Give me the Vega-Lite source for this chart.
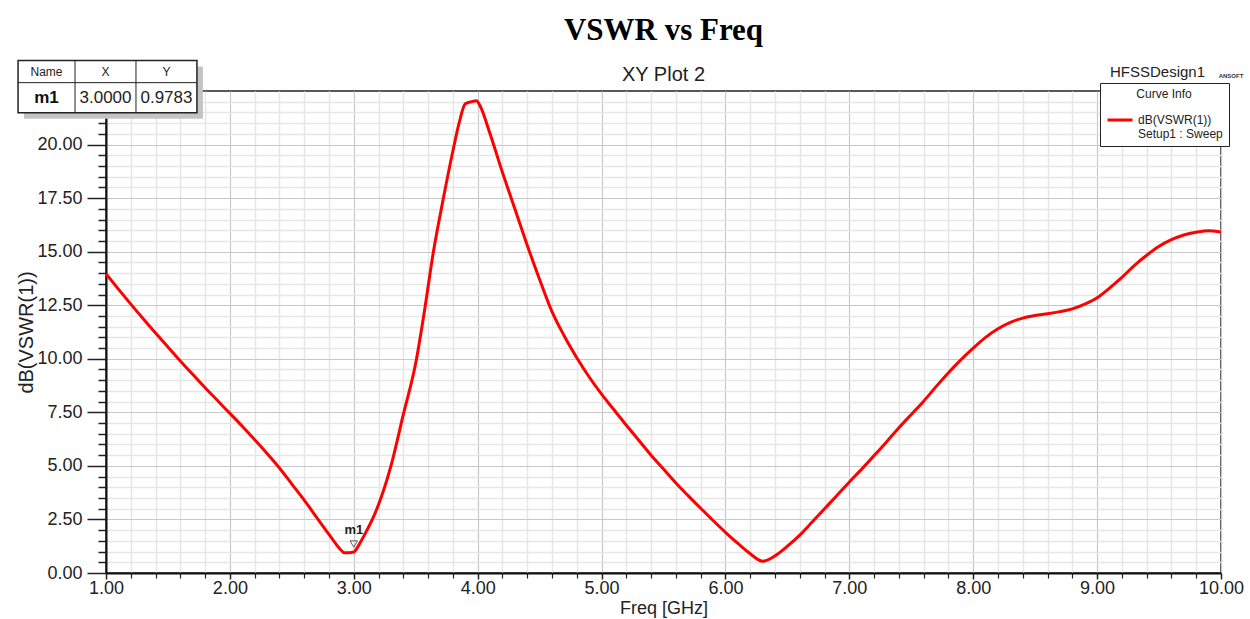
{
  "$schema": "https://vega.github.io/schema/vega-lite/v6.json",
  "width": 1115,
  "height": 482,
  "autosize": {"type": "none"},
  "padding": {"left": 106, "top": 91, "right": 29, "bottom": 46},
  "background": "white",
  "config": {
    "font": "Liberation Sans",
    "view": {"stroke": "#222", "strokeWidth": 1.5},
    "axis": {"labelColor": "#222", "titleColor": "#222", "tickColor": "#222", "domainColor": "#111"}
  },
  "title": {
    "text": "VSWR vs Freq",
    "subtitle": "XY Plot 2",
    "font": "Liberation Serif",
    "fontSize": 31,
    "fontWeight": "bold",
    "color": "#000",
    "subtitleFont": "Liberation Sans",
    "subtitleFontSize": 20,
    "subtitleColor": "#222",
    "subtitlePadding": 18,
    "anchor": "middle",
    "offset": -26
  },
  "datasets": {
    "curve": [
      {"f": 1.0, "v": 13.97}, {"f": 1.1, "v": 13.25}, {"f": 1.2, "v": 12.55}, {"f": 1.3, "v": 11.87},
      {"f": 1.4, "v": 11.2}, {"f": 1.5, "v": 10.55}, {"f": 1.6, "v": 9.9}, {"f": 1.7, "v": 9.27},
      {"f": 1.8, "v": 8.65}, {"f": 1.9, "v": 8.05}, {"f": 2.0, "v": 7.45}, {"f": 2.1, "v": 6.85},
      {"f": 2.2, "v": 6.22}, {"f": 2.3, "v": 5.58}, {"f": 2.4, "v": 4.9}, {"f": 2.5, "v": 4.15},
      {"f": 2.6, "v": 3.4}, {"f": 2.7, "v": 2.6}, {"f": 2.8, "v": 1.8}, {"f": 2.9, "v": 1.05},
      {"f": 2.92, "v": 0.95}, {"f": 2.96, "v": 0.95}, {"f": 3.0, "v": 0.98}, {"f": 3.05, "v": 1.4},
      {"f": 3.1, "v": 1.93}, {"f": 3.15, "v": 2.5}, {"f": 3.2, "v": 3.2}, {"f": 3.3, "v": 5.0},
      {"f": 3.4, "v": 7.4}, {"f": 3.5, "v": 9.8}, {"f": 3.575, "v": 12.4}, {"f": 3.64, "v": 14.9},
      {"f": 3.72, "v": 17.4}, {"f": 3.8, "v": 19.7}, {"f": 3.85, "v": 21.0}, {"f": 3.9, "v": 21.9},
      {"f": 3.95, "v": 22.0}, {"f": 3.99, "v": 22.05}, {"f": 4.02, "v": 21.8}, {"f": 4.1, "v": 20.5},
      {"f": 4.2, "v": 18.7}, {"f": 4.3, "v": 17.0}, {"f": 4.4, "v": 15.3}, {"f": 4.5, "v": 13.7},
      {"f": 4.6, "v": 12.2}, {"f": 4.7, "v": 11.05}, {"f": 4.8, "v": 10.05}, {"f": 4.9, "v": 9.15},
      {"f": 5.0, "v": 8.35}, {"f": 5.1, "v": 7.62}, {"f": 5.2, "v": 6.9}, {"f": 5.3, "v": 6.2},
      {"f": 5.4, "v": 5.5}, {"f": 5.5, "v": 4.85}, {"f": 5.6, "v": 4.2}, {"f": 5.7, "v": 3.6},
      {"f": 5.8, "v": 3.02}, {"f": 5.9, "v": 2.45}, {"f": 6.0, "v": 1.9}, {"f": 6.1, "v": 1.38},
      {"f": 6.2, "v": 0.9}, {"f": 6.3, "v": 0.55}, {"f": 6.4, "v": 0.8},
      {"f": 6.5, "v": 1.25}, {"f": 6.6, "v": 1.77}, {"f": 6.7, "v": 2.38}, {"f": 6.8, "v": 3.0},
      {"f": 6.9, "v": 3.62}, {"f": 7.0, "v": 4.25}, {"f": 7.1, "v": 4.85}, {"f": 7.2, "v": 5.48},
      {"f": 7.3, "v": 6.12}, {"f": 7.4, "v": 6.78}, {"f": 7.5, "v": 7.4}, {"f": 7.6, "v": 8.02},
      {"f": 7.7, "v": 8.7}, {"f": 7.8, "v": 9.35}, {"f": 7.9, "v": 9.95}, {"f": 8.0, "v": 10.5},
      {"f": 8.1, "v": 11.0}, {"f": 8.2, "v": 11.4}, {"f": 8.3, "v": 11.7}, {"f": 8.4, "v": 11.9},
      {"f": 8.5, "v": 12.02}, {"f": 8.6, "v": 12.1}, {"f": 8.7, "v": 12.2}, {"f": 8.8, "v": 12.33},
      {"f": 8.9, "v": 12.55}, {"f": 9.0, "v": 12.85}, {"f": 9.1, "v": 13.3}, {"f": 9.2, "v": 13.8},
      {"f": 9.3, "v": 14.35}, {"f": 9.4, "v": 14.83}, {"f": 9.5, "v": 15.25}, {"f": 9.6, "v": 15.56},
      {"f": 9.7, "v": 15.78}, {"f": 9.8, "v": 15.91}, {"f": 9.9, "v": 15.98}, {"f": 10.0, "v": 15.92}
    ],
    "marker": [{"name": "m1", "X": 3.0, "Y": 0.9783}]
  },
  "layer": [
    {
      "data": {"name": "marker"},
      "mark": {"type": "point", "opacity": 0},
      "encoding": {
        "x": {"field": "X", "type": "quantitative", "scale": {"domain": [1, 10], "nice": false, "zero": false},
          "axis": {"orient": "bottom", "values": [1.2,1.4,1.6,1.8,2.2,2.4,2.6,2.8,3.2,3.4,3.6,3.8,4.2,4.4,4.6,4.8,5.2,5.4,5.6,5.8,6.2,6.4,6.6,6.8,7.2,7.4,7.6,7.8,8.2,8.4,8.6,8.8,9.2,9.4,9.6,9.8],
            "labels": false, "domain": false, "title": null, "grid": true, "gridColor": "#e6e6e6", "gridWidth": 1.5, "tickSize": 5, "tickWidth": 1.2}},
        "y": {"field": "Y", "type": "quantitative", "scale": {"domain": [0, 22.5], "nice": false, "zero": false},
          "axis": {"orient": "left", "values": [0.5,1,1.5,2,3,3.5,4,4.5,5.5,6,6.5,7,8,8.5,9,9.5,10.5,11,11.5,12,13,13.5,14,14.5,15.5,16,16.5,17,18,18.5,19,19.5,20.5,21,21.5,22],
            "labels": false, "domain": false, "title": null, "grid": true, "gridColor": "#e6e6e6", "gridWidth": 1.5, "tickSize": 8, "tickWidth": 1.5}}
      }
    },
    {
      "data": {"name": "curve"},
      "mark": {"type": "line", "strokeWidth": 3, "interpolate": "monotone"},
      "encoding": {
        "x": {"field": "f", "type": "quantitative", "scale": {"domain": [1, 10], "nice": false, "zero": false},
          "axis": {"orient": "bottom", "values": [1,2,3,4,5,6,7,8,9,10], "format": ".2f", "grid": true, "gridColor": "#c8c8c8", "gridWidth": 1.2,
            "tickSize": 6, "tickWidth": 1.5, "domainWidth": 2, "labelFontSize": 18, "labelPadding": 0, "labelFlush": false,
            "title": "Freq [GHz]", "titleFontSize": 18, "titleFontWeight": "normal", "titlePadding": 2}},
        "y": {"field": "v", "type": "quantitative", "scale": {"domain": [0, 22.5], "nice": false, "zero": false},
          "axis": {"orient": "left", "values": [0,2.5,5,7.5,10,12.5,15,17.5,20], "format": ".2f", "grid": true, "gridColor": "#c8c8c8", "gridWidth": 1.2,
            "tickSize": 19, "tickWidth": 1.5, "domainWidth": 2, "labelFontSize": 18, "labelPadding": 5, "labelFlush": false,
            "title": "dB(VSWR(1))", "titleFontSize": 20, "titleFontWeight": "normal", "titlePadding": 0}},
        "color": {"datum": "dB(VSWR(1))", "type": "nominal", "scale": {"range": ["#ff0000"]},
          "legend": {"title": "Curve Info", "orient": "top-right", "offset": -8, "fillColor": "white", "strokeColor": "#222",
            "padding": 6, "titleFontSize": 12, "titleFontWeight": "normal", "titleColor": "#222", "titleAnchor": "middle",
            "labelFontSize": 12, "labelColor": "#222", "symbolType": "stroke", "symbolStrokeWidth": 3, "symbolSize": 625,
            "labelExpr": "['dB(VSWR(1))', 'Setup1 : Sweep']"}}
      }
    },
    {
      "data": {"name": "marker"},
      "mark": {"type": "point", "shape": "triangle-down", "filled": false, "stroke": "#222", "strokeWidth": 1, "size": 55, "yOffset": -8},
      "encoding": {"x": {"field": "X", "type": "quantitative", "axis": null}, "y": {"field": "Y", "type": "quantitative", "axis": null}}
    },
    {
      "data": {"name": "marker"},
      "mark": {"type": "text", "fontWeight": "bold", "fontSize": 13, "color": "#222", "yOffset": -22},
      "encoding": {"x": {"field": "X", "type": "quantitative", "axis": null}, "y": {"field": "Y", "type": "quantitative", "axis": null}, "text": {"field": "name"}}
    },
    {
      "data": {"name": "marker"},
      "mark": {"type": "rect", "fill": "#c4c4c4", "xOffset": 6, "yOffset": 6, "x2Offset": 6, "y2Offset": 6},
      "encoding": {"x": {"datum": 0.29, "axis": null}, "x2": {"datum": 1.734}, "y": {"datum": 23.92, "axis": null}, "y2": {"datum": 21.49}}
    },
    {
      "data": {"name": "marker"},
      "mark": {"type": "rect", "fill": "white", "stroke": "#222", "strokeWidth": 1.5},
      "encoding": {"x": {"datum": 0.29, "axis": null}, "x2": {"datum": 1.734}, "y": {"datum": 23.92, "axis": null}, "y2": {"datum": 21.49}}
    },
    {
      "data": {"name": "marker"},
      "mark": {"type": "rule", "stroke": "#222", "strokeWidth": 1},
      "encoding": {"x": {"datum": 0.29, "axis": null}, "x2": {"datum": 1.734}, "y": {"datum": 22.89, "axis": null}}
    },
    {
      "data": {"name": "marker"},
      "mark": {"type": "rule", "stroke": "#222", "strokeWidth": 1},
      "encoding": {"x": {"datum": 0.75, "axis": null}, "y": {"datum": 23.92, "axis": null}, "y2": {"datum": 21.49}}
    },
    {
      "data": {"name": "marker"},
      "mark": {"type": "rule", "stroke": "#222", "strokeWidth": 1},
      "encoding": {"x": {"datum": 1.242, "axis": null}, "y": {"datum": 23.92, "axis": null}, "y2": {"datum": 21.49}}
    },
    {
      "data": {"name": "marker"},
      "mark": {"type": "text", "text": "Name", "fontSize": 12, "color": "#222"},
      "encoding": {"x": {"datum": 0.52, "axis": null}, "y": {"datum": 23.40, "axis": null}}
    },
    {
      "data": {"name": "marker"},
      "mark": {"type": "text", "text": "X", "fontSize": 12, "color": "#222"},
      "encoding": {"x": {"datum": 0.996, "axis": null}, "y": {"datum": 23.40, "axis": null}}
    },
    {
      "data": {"name": "marker"},
      "mark": {"type": "text", "text": "Y", "fontSize": 12, "color": "#222"},
      "encoding": {"x": {"datum": 1.488, "axis": null}, "y": {"datum": 23.40, "axis": null}}
    },
    {
      "data": {"name": "marker"},
      "mark": {"type": "text", "fontSize": 17, "fontWeight": "bold", "color": "#111"},
      "encoding": {"x": {"datum": 0.52, "axis": null}, "y": {"datum": 22.19, "axis": null}, "text": {"field": "name"}}
    },
    {
      "data": {"name": "marker"},
      "mark": {"type": "text", "fontSize": 17, "color": "#222"},
      "encoding": {"x": {"datum": 0.996, "axis": null}, "y": {"datum": 22.19, "axis": null}, "text": {"field": "X", "format": ".4f"}}
    },
    {
      "data": {"name": "marker"},
      "mark": {"type": "text", "fontSize": 17, "color": "#222"},
      "encoding": {"x": {"datum": 1.488, "axis": null}, "y": {"datum": 22.19, "axis": null}, "text": {"field": "Y", "format": ".4f"}}
    },
    {
      "data": {"name": "marker"},
      "mark": {"type": "text", "text": "HFSSDesign1", "fontSize": 15, "color": "#222", "align": "right", "dx": -16, "dy": -19},
      "encoding": {"x": {"datum": 10, "axis": null}, "y": {"datum": 22.5, "axis": null}}
    },
    {
      "data": {"name": "marker"},
      "mark": {"type": "text", "text": "ANSOFT", "fontSize": 6, "fontWeight": "bold", "color": "#333", "align": "center", "dx": 10, "dy": -15},
      "encoding": {"x": {"datum": 10, "axis": null}, "y": {"datum": 22.5, "axis": null}}
    }
  ],
  "resolve": {"axis": {"x": "independent", "y": "independent"}}
}
